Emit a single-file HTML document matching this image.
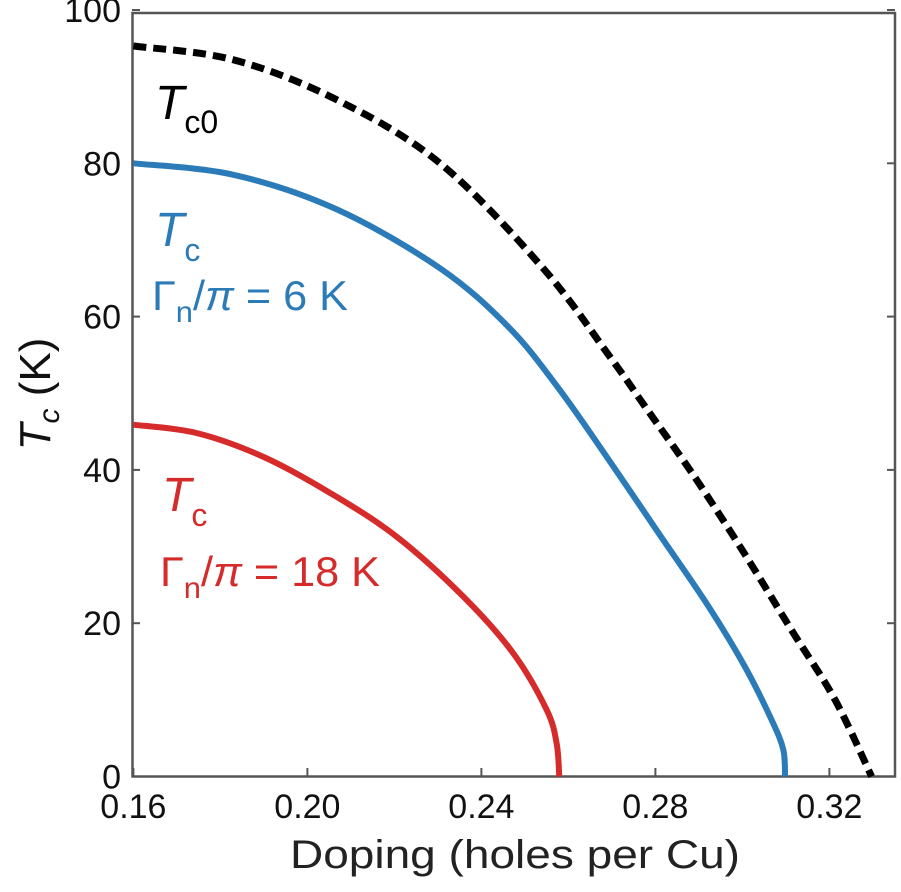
<!DOCTYPE html>
<html><head><meta charset="utf-8"><style>
body{margin:0;background:#fff;width:901px;height:887px;overflow:hidden}
svg text{font-family:"Liberation Sans","DejaVu Sans",sans-serif}
</style></head><body>
<svg id="chart" width="901" height="887" viewBox="0 0 901 887">
<g id="axes"></g><g id="series"></g>
<text x="155" y="119" font-size="48" font-style="italic" fill="#000">T<tspan font-size="32" font-style="normal" dy="14">c0</tspan></text>
<text x="155" y="246" font-size="48" font-style="italic" fill="#2b7bb9">T<tspan font-size="32" font-style="normal" dy="15">c</tspan></text>
<text x="152" y="310" font-size="42" fill="#2b7bb9" textLength="196" lengthAdjust="spacingAndGlyphs">Γ<tspan font-size="30" dy="12">n</tspan><tspan dy="-12">/</tspan><tspan font-style="italic">π</tspan> = 6 K</text>
<text x="162" y="511" font-size="48" font-style="italic" fill="#d62b2b">T<tspan font-size="32" font-style="normal" dy="15">c</tspan></text>
<text x="160" y="586" font-size="42" fill="#d62b2b" textLength="220" lengthAdjust="spacingAndGlyphs">Γ<tspan font-size="30" dy="12">n</tspan><tspan dy="-12">/</tspan><tspan font-style="italic">π</tspan> = 18 K</text>
<text x="290" y="868" font-size="40" fill="#222" textLength="450" lengthAdjust="spacingAndGlyphs">Doping (holes per Cu)</text>
<text transform="translate(50,394) rotate(-90)" font-size="44" text-anchor="middle" fill="#111"><tspan font-style="italic">T<tspan font-size="30" dy="9">c</tspan></tspan><tspan dy="-9"> (K)</tspan></text>
</svg>
<script>
const xTicks=[0.16,0.20,0.24,0.28,0.32];
const xTickLabels=["0.16","0.20","0.24","0.28","0.32"];
const yTicks=[0,20,40,60,80,100];
const yTickLabels=["0","20","40","60","80","100"];
const tc0X=[0.16,0.183,0.2067,0.2305,0.2542,0.270,0.2777,0.2884,0.2999,0.3113,0.3213,0.3297];
const tc0Y=[95.3,93.5,88.3,80.0,66.3,54.4,48.2,39.6,29.6,19.1,10.0,0];
const blueX=[0.16,0.183,0.2067,0.2305,0.2463,0.2578,0.2693,0.2808,0.2922,0.3006,0.3067,0.3094,0.3098];
const blueY=[80.0,78.5,74.0,66.3,58.6,50.6,41.3,31.7,22.2,14.3,7.4,3.5,0];
const redX=[0.16,0.1746,0.1899,0.2052,0.2205,0.2358,0.2473,0.2550,0.2573,0.2579];
const redY=[45.9,44.8,41.7,37.0,31.3,23.5,16.1,8.7,4.3,0];
const X0=133.4,XS=4350,Y0=776.5,YS=7.665;
const sx=v=>X0+(v-0.16)*XS, sy=v=>Y0-v*YS;
const NS="http://www.w3.org/2000/svg";
const ax=document.getElementById('axes'), se=document.getElementById('series');
function mk(tag,attrs,parent){const e=document.createElementNS(NS,tag);for(const k in attrs)e.setAttribute(k,attrs[k]);parent.appendChild(e);return e;}
const frame=mk('rect',{x:132.5,y:13,width:762.5,height:763.5,fill:'none',stroke:'#555','stroke-width':2.5},ax);


xTicks.forEach((t,i)=>{
  const l=mk('line',{x1:sx(t),x2:sx(t),y1:776,y2:768,stroke:'#555','stroke-width':2},ax);
  
  
  const tx=mk('text',{x:sx(t),y:818,'font-size':34,'text-anchor':'middle',fill:'#111'},ax);
  tx.textContent=xTickLabels[i];
  
  
});
yTicks.forEach((t,i)=>{
  const l=mk('line',{x1:132,x2:140,y1:sy(t),y2:sy(t),stroke:'#555','stroke-width':2},ax);
  
  
  const r=mk('line',{x1:887,x2:895,y1:sy(t),y2:sy(t),stroke:'#555','stroke-width':2},ax);
  
  
  const tx=mk('text',{x:121,y:sy(t)+12,'font-size':34,'text-anchor':'end',fill:'#111'},ax);
  tx.textContent=yTickLabels[i];
  
  
});
function path(xs,ys){
  const p=xs.map((x,i)=>[sx(x),sy(ys[i])]);
  let d='M'+p[0][0]+','+p[0][1];
  for(let i=0;i<p.length-1;i++){
    const a=p[Math.max(i-1,0)],b=p[i],c=p[i+1],e=p[Math.min(i+2,p.length-1)];
    d+=' C'+(b[0]+(c[0]-a[0])/6)+','+(b[1]+(c[1]-a[1])/6)+' '+(c[0]-(e[0]-b[0])/6)+','+(c[1]-(e[1]-b[1])/6)+' '+c[0]+','+c[1];
  }
  return d;
}
const k=mk('path',{d:path(tc0X,tc0Y),fill:'none',stroke:'#000','stroke-width':7,'stroke-dasharray':'13 7'},se);


const b=mk('path',{d:path(blueX,blueY),fill:'none',stroke:'#2b7bb9','stroke-width':6},se);


const r=mk('path',{d:path(redX,redY),fill:'none',stroke:'#d62b2b','stroke-width':6},se);


</script>
</body></html>
